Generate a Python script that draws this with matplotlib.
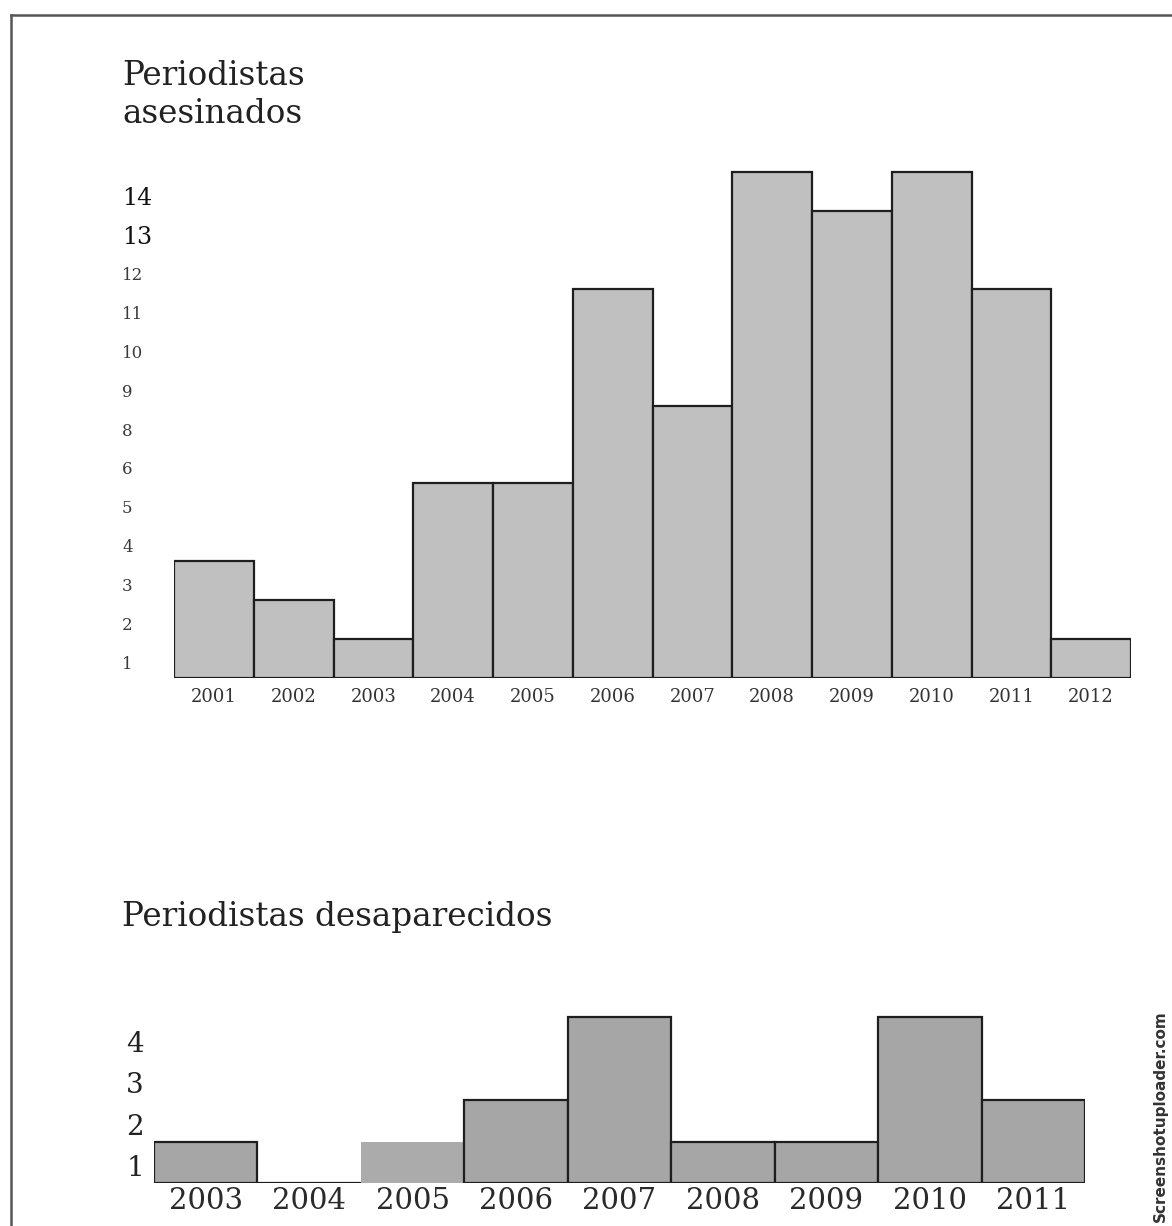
import numpy as np
import matplotlib
matplotlib.use("Agg")
import matplotlib.pyplot as plt
from matplotlib.lines import Line2D

# periodistas asesinados
years_a = ["2001", "2002", "2003", "2004", "2005", "2006",
           "2007", "2008", "2009", "2010", "2011", "2012"]
asesinados = [3, 2, 1, 5, 5, 10, 7, 13, 12, 13, 10, 1]
ylabels_a = ["1", "2", "3", "4", "5", "6", "8", "9", "10", "11", "12", "13", "14"]

# periodistas desaparecidos
years_d = ["2003", "2004", "2005", "2006", "2007", "2008", "2009", "2010", "2011"]
desaparecidos = [1, 0, 1, 2, 4, 1, 1, 4, 2]
ylabels_d = ["1", "2", "3", "4"]

W, H = 1172, 1226
fig = plt.figure(figsize=(W / 100, H / 100), dpi=100)
fig.patch.set_facecolor("white")
serif = "DejaVu Serif"


def px_axes(x0, x1, y_top, y_bot):
    return fig.add_axes([x0 / W, 1 - y_bot / H, (x1 - x0) / W, (y_bot - y_top) / H])


# top chart
ax1 = px_axes(174, 1131, 150, 678)
x = np.arange(len(years_a))
ax1.bar(x, asesinados, width=1.0, color="#c0c0c0", edgecolor="#1e1e1e", linewidth=1.6)
ax1.set_xlim(-0.5, len(years_a) - 0.5)
ax1.set_ylim(0, (678 - 150) / 38.9)
ax1.set_xticks(x)
ax1.set_xticklabels(years_a, family=serif, fontsize=13, color="#333333")
ax1.set_yticks(np.arange(len(ylabels_a)) + 0.4)
ax1.set_yticklabels(ylabels_a, family=serif, ha="left", color="#3a3a3a", fontsize=12)
for lab in ax1.get_yticklabels():
    if lab.get_text() in ("13", "14"):
        lab.set_fontsize(17)
        lab.set_color("#111111")
ax1.tick_params(axis="y", length=0, pad=37.4)
ax1.tick_params(axis="x", length=0, pad=7)
for s in ax1.spines.values():
    s.set_visible(False)

# bottom chart
ax2 = px_axes(154, 1085, 1009, 1183)
x2 = np.arange(len(years_d))
bars = ax2.bar(x2, desaparecidos, width=1.0, color="#a6a6a6", edgecolor="#1e1e1e", linewidth=1.6)
bars[2].set_edgecolor("none")
bars[2].set_facecolor("#ababab")
ax2.set_xlim(-0.5, len(years_d) - 0.5)
ax2.set_ylim(0, (1183 - 1009) / 41.5)
ax2.set_xticks(x2)
ax2.set_xticklabels(years_d, family=serif, fontsize=21, color="#2a2a2a")
ax2.set_yticks(np.arange(len(ylabels_d)) + 0.42)
ax2.set_yticklabels(ylabels_d, family=serif, ha="left", fontsize=20, color="#222222")
ax2.tick_params(axis="y", length=0, pad=20)
ax2.tick_params(axis="x", length=0, pad=3)
for s in ax2.spines.values():
    s.set_visible(False)

# titles
fig.text(122 / W, 1 - 85 / H, "Periodistas", family=serif, fontsize=23.5, color="#222222", va="baseline")
fig.text(122 / W, 1 - 123 / H, "asesinados", family=serif, fontsize=23.5, color="#222222", va="baseline")
fig.text(122 / W, 1 - 926 / H, "Periodistas desaparecidos", family=serif, fontsize=23.5,
         color="#222222", va="baseline")

# border of the screenshot
fig.add_artist(Line2D([11 / W, 1], [1 - 15 / H, 1 - 15 / H], color="#555555", lw=1.8))
fig.add_artist(Line2D([11 / W, 11 / W], [0, 1 - 15 / H], color="#555555", lw=1.8))

# watermark
fig.text(1160 / W, 1 - 1222 / H, "Screenshotuploader.com", rotation=90, fontsize=11,
         fontweight="bold", color="#333333", ha="center", va="bottom")

fig.savefig("out.png", dpi=100, facecolor="white")
